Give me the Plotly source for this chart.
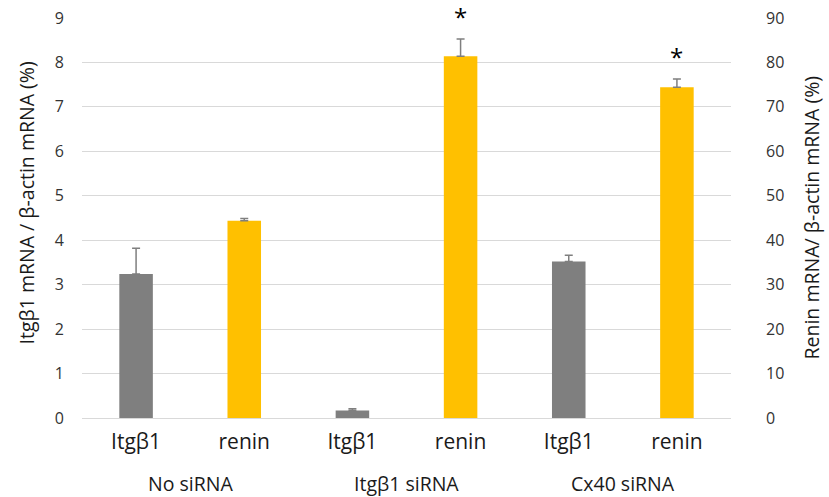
import plotly.graph_objects as go

categories = ["Itgβ1", "renin", "Itgβ1", "renin", "Itgβ1", "renin"]
groups = ["No siRNA", "Itgβ1 siRNA", "Cx40 siRNA"]
itg_pos = [0, 2, 4]
renin_pos = [1, 3, 5]
itg_values = [3.24, 0.17, 3.52]
itg_err = [0.58, 0.04, 0.14]
renin_values = [44.4, 81.4, 74.4]
renin_err = [0.5, 3.9, 1.9]
significant = [False, True, True]
left_ticks = [0, 1, 2, 3, 4, 5, 6, 7, 8, 9]
right_ticks = [0, 10, 20, 30, 40, 50, 60, 70, 80, 90]

FONT = "Open Sans"
GRAY = "#7f7f7f"
YELLOW = "#ffc000"
ERRC = "#7f7f7f"
TXT = "#1a1a1a"

fig = go.Figure()
fig.add_trace(go.Bar(
    x=itg_pos, y=itg_values, width=0.31, marker_color=GRAY,
    marker_line_width=0,
    error_y=dict(type="data", array=itg_err, arrayminus=[0]*3, symmetric=False,
                 color=ERRC, thickness=1.5, width=4),
    yaxis="y", showlegend=False))
fig.add_trace(go.Bar(
    x=renin_pos, y=renin_values, width=0.31, marker_color=YELLOW,
    marker_line_width=0,
    error_y=dict(type="data", array=renin_err, arrayminus=[0]*3, symmetric=False,
                 color=ERRC, thickness=1.5, width=4),
    yaxis="y2", showlegend=False))

annotations = []
for p, v, e, s in zip(renin_pos, renin_values, renin_err, significant):
    if s:
        annotations.append(dict(x=p, y=v + e, xref="x", yref="y2", text="*",
                                showarrow=False, yanchor="middle", yshift=22,
                                font=dict(family=FONT, size=24, color="black")))
for i, g in enumerate(groups):
    annotations.append(dict(x=(itg_pos[i] + renin_pos[i]) / 2, y=0, xref="x", yref="paper",
                            text=g, showarrow=False, yanchor="middle", yshift=-65,
                            font=dict(family=FONT, size=19.5, color=TXT)))
annotations.append(dict(x=0, y=0.5, xref="paper", yref="paper", xshift=-72, yshift=15,
                        text="Itgβ1 mRNA / β-actin mRNA (%)", textangle=-90, showarrow=False,
                        font=dict(family=FONT, size=19.5, color=TXT)))
annotations.append(dict(x=1, y=0.5, xref="paper", yref="paper", xshift=95,
                        text="Renin mRNA/ β-actin mRNA (%)", textangle=-90, showarrow=False,
                        font=dict(family=FONT, size=19.5, color=TXT)))

fig.update_layout(
    width=829, height=497,
    margin=dict(l=82, r=98, t=18, b=79),
    plot_bgcolor="white", paper_bgcolor="white",
    barmode="overlay",
    xaxis=dict(range=[-0.5, 5.5], tickvals=list(range(6)), ticktext=categories,
               showgrid=False, zeroline=False, showline=False, ticks="", automargin=False,
               tickfont=dict(family=FONT, size=21, color=TXT), ticklabelstandoff=9),
    yaxis=dict(range=[0, 9], tickvals=left_ticks, showgrid=True, gridcolor="#d9d9d9",
               gridwidth=1, zeroline=True, zerolinecolor="#d9d9d9", zerolinewidth=1,
               showline=False, ticks="", automargin=False,
               tickfont=dict(family=FONT, size=16, color="#333333"), ticklabelstandoff=17),
    yaxis2=dict(range=[0, 90], tickvals=right_ticks, overlaying="y", side="right",
                showgrid=False, zeroline=False, showline=False, ticks="", automargin=False,
                tickfont=dict(family=FONT, size=16, color="#333333"), ticklabelstandoff=34),
    annotations=annotations,
)

fig.write_html("out.html", config={"displayModeBar": False},
               post_script="document.body.style.margin='0';document.body.style.overflow='hidden';")
